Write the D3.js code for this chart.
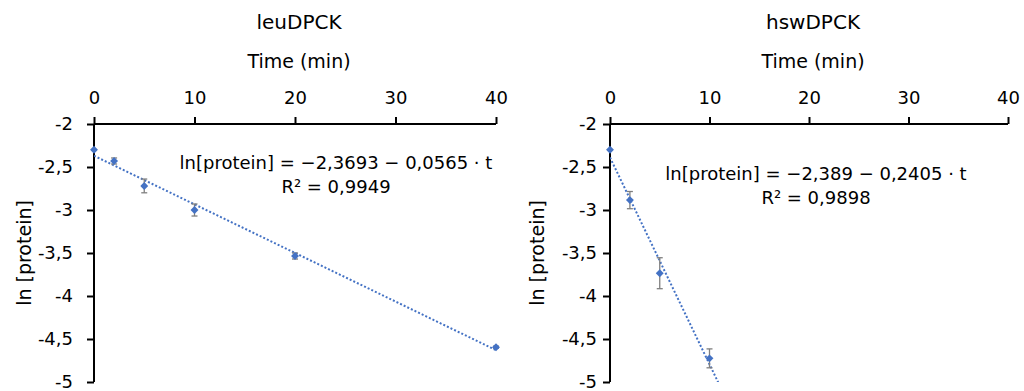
<!DOCTYPE html>
<html>
<head>
<meta charset="utf-8">
<script src="https://cdn.jsdelivr.net/npm/d3@7/dist/d3.min.js"></script>
<style>
  html, body { margin: 0; padding: 0; background: #fff; }
  svg { display: block; }
  text { font-family: "DejaVu Sans", Verdana, sans-serif; fill: #000; }
</style>
</head>
<body>
<svg id="chart" width="1024" height="391"></svg>
<script>
// Time points (min) and mean ln[protein] with standard deviations
const leuTime  = [0, 2, 5, 10, 20, 40];
const leuMean  = [-2.30, -2.43, -2.72, -3.00, -3.535, -4.595];
const leuErr   = [0, 0.035, 0.08, 0.07, 0.035, 0.012];

const hswTime  = [0, 2, 5, 10];
const hswMean  = [-2.30, -2.885, -3.735, -4.725];
const hswErr   = [0, 0.10, 0.18, 0.11];

// Linear fits: ln[protein] = a + b·t
const leuFit = { a: -2.3693, b: -0.0565, r2: "0,9949", eq: "ln[protein] = \u22122,3693 \u2212 0,0565 \u00b7 t" };
const hswFit = { a: -2.389,  b: -0.2405, r2: "0,9898", eq: "ln[protein] = \u22122,389 \u2212 0,2405 \u00b7 t" };

const xTicks = [0, 10, 20, 30, 40];
const yTicks = [-2, -2.5, -3, -3.5, -4, -4.5, -5];

const blue = "#4472C4";
const svg = d3.select("#chart");
const fmt = v => String(v).replace(".", ",");

function panel(cfg) {
  const x = d3.scaleLinear().domain([0, 40]).range([cfg.x0, cfg.x1]);
  const y = d3.scaleLinear().domain([-5, -2]).range([382, 124]);
  const g = svg.append("g");
  const clipId = "clip-" + cfg.id;
  g.append("clipPath").attr("id", clipId)
    .append("rect").attr("x", cfg.x0).attr("y", 124)
    .attr("width", cfg.x1 - cfg.x0).attr("height", 382 - 124);

  // Titles
  g.append("text").attr("x", (cfg.x0 + cfg.x1) / 2 + 4).attr("y", 29)
    .attr("text-anchor", "middle").style("font-size", "20px").text(cfg.title);
  g.append("text").attr("x", (cfg.x0 + cfg.x1) / 2 + 4).attr("y", 68)
    .attr("text-anchor", "middle").style("font-size", "19px").text("Time (min)");
  g.append("text")
    .attr("transform", `translate(${cfg.yLabelX},253) rotate(-90)`)
    .attr("text-anchor", "middle").attr("dy", "0.35em")
    .style("font-size", "19px").text("ln [protein]");

  // Axes
  const xAxis = d3.axisTop(x).tickValues(xTicks).tickSize(7).tickPadding(13).tickFormat(fmt);
  const yAxis = d3.axisLeft(y).tickValues(yTicks).tickSize(7).tickPadding(cfg.yPad).tickFormat(fmt);
  const ga = g.append("g").attr("transform", `translate(0,${y(-2)})`).call(xAxis);
  const gb = g.append("g").attr("transform", `translate(${x(0)},0)`).call(yAxis);
  [ga, gb].forEach(a => {
    a.select(".domain").remove();
    a.selectAll("line").attr("stroke", "#000").attr("stroke-width", 2);
    a.selectAll("text").style("font-size", "18px").style("font-family", '"DejaVu Sans", Verdana, sans-serif');
  });
  g.append("line").attr("x1", x(0)).attr("x2", x(40)).attr("y1", y(-2)).attr("y2", y(-2))
    .attr("stroke", "#000").attr("stroke-width", 2);
  g.append("line").attr("x1", x(0)).attr("x2", x(0)).attr("y1", y(-2)).attr("y2", y(-5))
    .attr("stroke", "#000").attr("stroke-width", 2);

  // Trend line
  const tEnd = cfg.fitEnd;
  g.append("line").attr("clip-path", `url(#${clipId})`)
    .attr("x1", x(0)).attr("y1", y(cfg.fit.a))
    .attr("x2", x(tEnd)).attr("y2", y(cfg.fit.a + cfg.fit.b * tEnd))
    .attr("stroke", blue).attr("stroke-width", 2)
    .attr("stroke-dasharray", "2,2");

  const pts = cfg.time.map((t, i) => ({ t, m: cfg.mean[i], e: cfg.err[i] }));

  // Error bars
  const eb = g.append("g").attr("stroke", "#7f7f7f").attr("stroke-width", 1.3);
  pts.filter(p => p.e > 0).forEach(p => {
    eb.append("line").attr("x1", x(p.t)).attr("x2", x(p.t)).attr("y1", y(p.m + p.e)).attr("y2", y(p.m - p.e));
    [p.m + p.e, p.m - p.e].forEach(v =>
      eb.append("line").attr("x1", x(p.t) - 3).attr("x2", x(p.t) + 3).attr("y1", y(v)).attr("y2", y(v)));
  });

  // Markers
  const diamond = d3.symbol().type(d3.symbolDiamond2).size(40);
  g.selectAll(".pt").data(pts).join("path")
    .attr("transform", p => `translate(${x(p.t)},${y(p.m)})`)
    .attr("d", diamond).attr("fill", blue);

  // Equation
  g.append("text").attr("x", cfg.eqX).attr("y", cfg.eqY).attr("text-anchor", "middle")
    .attr("dy", "0.35em").style("font-size", "18px").text(cfg.fit.eq);
  g.append("text").attr("x", cfg.eqX).attr("y", cfg.eqY + 24).attr("text-anchor", "middle")
    .attr("dy", "0.35em").style("font-size", "18px").text("R\u00b2 = " + cfg.fit.r2);
}

panel({ id: "leu", title: "leuDPCK", x0: 94, x1: 496, time: leuTime, mean: leuMean, err: leuErr,
        fit: leuFit, fitEnd: 40, yPad: 14, yLabelX: 24, eqX: 336, eqY: 163 });
panel({ id: "hsw", title: "hswDPCK", x0: 610, x1: 1008, time: hswTime, mean: hswMean, err: hswErr,
        fit: hswFit, fitEnd: 11, yPad: 6, yLabelX: 537, eqX: 816, eqY: 174 });
</script>
</body>
</html>
